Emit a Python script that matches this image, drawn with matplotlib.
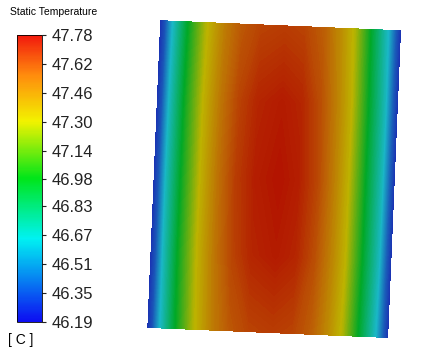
import numpy as np
import matplotlib
matplotlib.use('Agg')
import matplotlib.pyplot as plt
from matplotlib.colors import LinearSegmentedColormap, Normalize
from matplotlib.transforms import Affine2D
from matplotlib.cm import ScalarMappable

plt.rcParams['font.family'] = ['Liberation Sans', 'DejaVu Sans']

# temperature range and legend ticks
t_min, t_max = 46.19, 47.78
tick_vals = [47.78, 47.62, 47.46, 47.30, 47.14, 46.98, 46.83, 46.67, 46.51, 46.35, 46.19]

# sample positions across the plate (0 = left edge, 1 = right edge) and down it (0 = top)
u_pos = [0.0, 0.02, 0.05, 0.11, 0.19, 0.27, 0.34, 0.42, 0.52, 0.6, 0.68, 0.75, 0.81, 0.88, 0.95, 0.98, 1.0]
v_pos = [0.0, 0.25, 0.5, 0.75, 1.0]

# temperatures [C]
temp_top = [46.19, 46.30, 46.64, 46.96, 47.28, 47.47, 47.58, 47.64, 47.66, 47.64, 47.56, 47.42, 47.28, 46.96, 46.64, 46.33, 46.19]
temp_upper = [46.19, 46.31, 46.66, 46.98, 47.30, 47.50, 47.64, 47.73, 47.76, 47.73, 47.61, 47.45, 47.30, 46.98, 46.67, 46.34, 46.19]
temp_mid = [46.19, 46.32, 46.67, 46.98, 47.30, 47.51, 47.66, 47.75, 47.78, 47.75, 47.63, 47.46, 47.30, 46.98, 46.67, 46.35, 46.19]
temp_lower = [46.19, 46.31, 46.66, 46.98, 47.30, 47.50, 47.64, 47.73, 47.76, 47.73, 47.61, 47.45, 47.30, 46.98, 46.67, 46.34, 46.19]
temp_bot = [46.19, 46.30, 46.64, 46.96, 47.28, 47.47, 47.58, 47.64, 47.66, 47.64, 47.56, 47.42, 47.28, 46.96, 46.64, 46.33, 46.19]

# rainbow like the solver legend, and a darker lit version for the surface
stops = [0.0, 0.29, 0.5, 0.7, 0.86, 1.0]
legend_cols = [(0.05, 0.05, 0.95), (0.0, 0.95, 0.95), (0.0, 0.9, 0.1),
               (0.95, 0.95, 0.0), (1.0, 0.55, 0.05), (0.95, 0.1, 0.05)]
surf_cols = [(0.1, 0.2, 0.7), (0.1, 0.72, 0.78), (0.0, 0.66, 0.15),
             (0.74, 0.7, 0.0), (0.74, 0.38, 0.02), (0.7, 0.08, 0.0)]
legend_cmap = LinearSegmentedColormap.from_list('legend', list(zip(stops, legend_cols)))
surf_cmap = LinearSegmentedColormap.from_list('surf', list(zip(stops, surf_cols)))
norm = Normalize(t_min, t_max)

fig = plt.figure(figsize=(4.33, 3.58), dpi=100)
ax = fig.add_axes([0, 0, 1, 1])
ax.set_xlim(0, 433)
ax.set_ylim(358, 0)
ax.axis('off')

# plate size in pixels, tilted a little
plate_w, plate_h = 240, 307
tr = Affine2D().rotate_deg(2.4).translate(160.7, 20.7) + ax.transData

U, V = np.meshgrid(np.array(u_pos) * plate_w, np.array(v_pos) * plate_h)
T = np.array([temp_top, temp_upper, temp_mid, temp_lower, temp_bot])
ax.contourf(U, V, T, levels=np.linspace(t_min, t_max, 200), cmap=surf_cmap,
            norm=norm, transform=tr, antialiased=False, extend='both')

# colorbar
cax = fig.add_axes([17 / 433, 1 - 322 / 358, 25 / 433, 287 / 358])
cb = fig.colorbar(ScalarMappable(norm=norm, cmap=legend_cmap), cax=cax, ticks=tick_vals)
cb.ax.set_yticklabels([f'{v:.2f}' for v in tick_vals], fontsize=12)
cb.ax.tick_params(length=3, width=0.8, pad=4, direction='out', colors='#222222')
cb.outline.set_linewidth(0.6)

fig.text(10 / 433, 1 - 12 / 358, 'Static Temperature', fontsize=7.5, va='center', ha='left')
fig.text(8 / 433, 1 - 340 / 358, '[ C ]', fontsize=10, va='center', ha='left')

fig.savefig('out.png', dpi=100)
